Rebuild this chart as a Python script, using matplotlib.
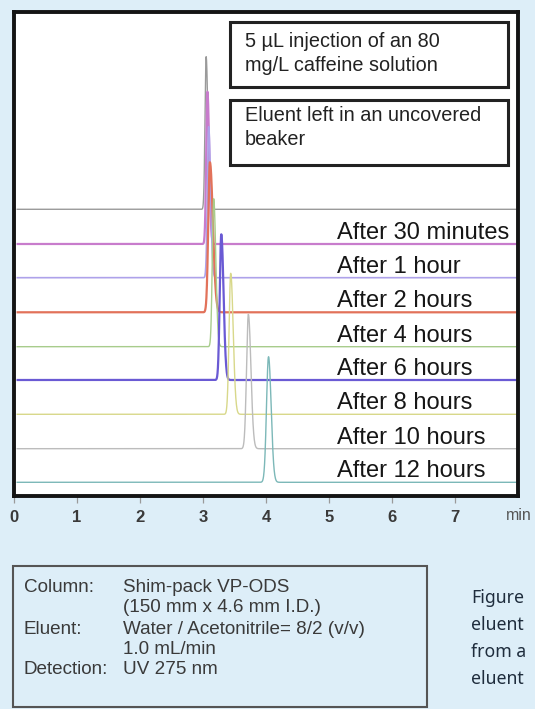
import numpy as np
import matplotlib
matplotlib.use("Agg")
import matplotlib.pyplot as plt
from matplotlib.patches import Rectangle

plt.rcParams['font.family'] = ['Liberation Sans', 'DejaVu Sans']

# ---- data ----
labels = ["", "After 30 minutes", "After 1 hour", "After 2 hours", "After 4 hours",
          "After 6 hours", "After 8 hours", "After 10 hours", "After 12 hours"]
retention = [3.05, 3.07, 3.09, 3.11, 3.17, 3.29, 3.44, 3.72, 4.04]    # min
heights = [152.6, 152.3, 151.0, 150.0, 148.0, 145.7, 141.0, 134.4, 125.6]
widths = [0.018, 0.019, 0.020, 0.026, 0.022, 0.024, 0.026, 0.029, 0.032]  # sigma, min
tailing = [1.5, 1.5, 1.5, 1.8, 1.5, 1.5, 1.5, 1.4, 1.3]
offsets = [286.7, 252.0, 218.3, 183.7, 149.3, 116.0, 81.7, 47.3, 13.7]  # baselines
colors = ["#9a9a9a", "#c87ccc", "#aea2ea", "#e2725a", "#a8cc8c",
          "#6a5ad4", "#d8d88a", "#bcbcbc", "#7cb8b8"]
lwidths = [1.0, 1.6, 1.2, 1.6, 1.0, 1.6, 1.0, 1.0, 1.0]
xticks = [0, 1, 2, 3, 4, 5, 6, 7]
xtick_labels = ["0", "1", "2", "3", "4", "5", "6", "7"]

W, H = 535, 709
fig = plt.figure(figsize=(W / 100, H / 100), dpi=100)
bg = "#ddeef8"
fig.patch.set_facecolor(bg)

L, R, T, B = 14, 518, 11.7, 496
ax = fig.add_axes([L / W, (H - B) / H, (R - L) / W, (B - T) / H])
ax.set_facecolor("white")
ax.set_xlim(0, 8)
ax.set_ylim(0, B - T)

x = np.linspace(0.04, 7.98, 4000)
for rt, h, w, tf, off, c, lw, lab in zip(retention, heights, widths, tailing,
                                         offsets, colors, lwidths, labels):
    sig = np.where(x < rt, w, w * tf)
    y = off + h * np.exp(-0.5 * ((x - rt) / sig) ** 2)
    ax.plot(x, y, color=c, lw=lw, solid_capstyle='butt')
    if lab:
        ax.text(5.13, off + 5, lab, fontsize=17, color="#161616",
                ha="left", va="baseline")

for s in ax.spines.values():
    s.set_linewidth(2.8)
    s.set_color("#141414")

ax.set_yticks([])
ax.set_xticks(xticks)
ax.set_xticklabels(xtick_labels, fontweight="bold")
ax.tick_params(axis='x', direction='out', length=5, width=0.9, color="#9a9a9a",
               labelsize=12, labelcolor="#3a3a3a", pad=5)
fig.text(519 / W, 1 - 515 / H, "min", fontsize=11.5, color="#555555",
         ha="center", va="center")

# annotation boxes inside the plot
def px_box(x0, y0, x1, y1, lw=1.8, ec="#222222"):
    r = Rectangle((x0 / W, 1 - y1 / H), (x1 - x0) / W, (y1 - y0) / H,
                  transform=fig.transFigure, fill=False, lw=lw, ec=ec, zorder=5)
    fig.add_artist(r)

box_fs = 14.3
px_box(230, 21.7, 508.3, 86.7, lw=2.2)
fig.text(245 / W, 1 - 47 / H, "5 µL injection of an 80", fontsize=box_fs,
         color="#222222", va="baseline", ha="left")
fig.text(245 / W, 1 - 71 / H, "mg/L caffeine solution", fontsize=box_fs,
         color="#222222", va="baseline", ha="left")
px_box(230, 100, 508.3, 165, lw=2.2)
fig.text(245 / W, 1 - 121 / H, "Eluent left in an uncovered", fontsize=box_fs,
         color="#222222", va="baseline", ha="left")
fig.text(245 / W, 1 - 145 / H, "beaker", fontsize=box_fs,
         color="#222222", va="baseline", ha="left")

# conditions box
px_box(12.6, 566, 427, 707, lw=1.5, ec="#555555")
cond_left = ["Column:", "", "Eluent:", "", "Detection:"]
cond_right = ["Shim-pack VP-ODS", "(150 mm x 4.6 mm I.D.)",
              "Water / Acetonitrile= 8/2 (v/v)", "1.0 mL/min", "UV 275 nm"]
ys = [588, 608, 629, 649, 670]
cond_fs = 13.6
for l, r, yy in zip(cond_left, cond_right, ys):
    fig.text(24 / W, 1 - yy / H, l, fontsize=cond_fs, color="#3a3a3a", va="center")
    fig.text(123 / W, 1 - yy / H, r, fontsize=cond_fs, color="#3a3a3a", va="center")

cap = ["Figure", "eluent", "from a", "eluent"]
for i, t in enumerate(cap):
    fig.text(471 / W, 1 - (598 + 27 * i) / H, t, fontsize=12.7, color="#1f2d3d",
             va="center", ha="left", family=["Noto Sans", "DejaVu Sans"])

fig.savefig("out.png", dpi=100, facecolor=bg)
